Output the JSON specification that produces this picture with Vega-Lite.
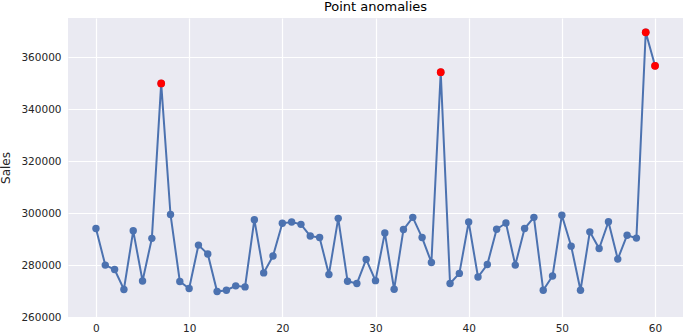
{
  "$schema": "https://vega.github.io/schema/vega-lite/v6.json",
  "autosize": {"type": "none"},
  "padding": {"left": 68, "top": 18, "right": 2, "bottom": 18},
  "width": 615,
  "height": 299,
  "background": "white",
  "title": {"text": "Point anomalies", "font": "DejaVu Sans", "fontSize": 13, "fontWeight": "normal", "color": "#000000", "offset": 4},
  "config": {
    "view": {"fill": "#EAEAF2", "stroke": null},
    "axis": {"labelFont": "DejaVu Sans", "labelFontSize": 10.5, "labelColor": "#262626", "titleFont": "DejaVu Sans", "titleFontSize": 12, "titleFontWeight": "normal", "titleColor": "#262626", "gridColor": "#FFFFFF", "gridWidth": 1.2, "gridOpacity": 1, "domain": false, "ticks": false}
  },
  "data": {"values": [
    {"t": 0, "sales": 294100, "anomaly": false},
    {"t": 1, "sales": 280000, "anomaly": false},
    {"t": 2, "sales": 278300, "anomaly": false},
    {"t": 3, "sales": 270600, "anomaly": false},
    {"t": 4, "sales": 293200, "anomaly": false},
    {"t": 5, "sales": 273900, "anomaly": false},
    {"t": 6, "sales": 290300, "anomaly": false},
    {"t": 7, "sales": 350000, "anomaly": true},
    {"t": 8, "sales": 299500, "anomaly": false},
    {"t": 9, "sales": 273700, "anomaly": false},
    {"t": 10, "sales": 271000, "anomaly": false},
    {"t": 11, "sales": 287700, "anomaly": false},
    {"t": 12, "sales": 284300, "anomaly": false},
    {"t": 13, "sales": 269800, "anomaly": false},
    {"t": 14, "sales": 270300, "anomaly": false},
    {"t": 15, "sales": 272000, "anomaly": false},
    {"t": 16, "sales": 271600, "anomaly": false},
    {"t": 17, "sales": 297500, "anomaly": false},
    {"t": 18, "sales": 277000, "anomaly": false},
    {"t": 19, "sales": 283500, "anomaly": false},
    {"t": 20, "sales": 296100, "anomaly": false},
    {"t": 21, "sales": 296600, "anomaly": false},
    {"t": 22, "sales": 295700, "anomaly": false},
    {"t": 23, "sales": 291200, "anomaly": false},
    {"t": 24, "sales": 290600, "anomaly": false},
    {"t": 25, "sales": 276400, "anomaly": false},
    {"t": 26, "sales": 298000, "anomaly": false},
    {"t": 27, "sales": 273800, "anomaly": false},
    {"t": 28, "sales": 272900, "anomaly": false},
    {"t": 29, "sales": 282200, "anomaly": false},
    {"t": 30, "sales": 274000, "anomaly": false},
    {"t": 31, "sales": 292400, "anomaly": false},
    {"t": 32, "sales": 270700, "anomaly": false},
    {"t": 33, "sales": 293700, "anomaly": false},
    {"t": 34, "sales": 298400, "anomaly": false},
    {"t": 35, "sales": 290600, "anomaly": false},
    {"t": 36, "sales": 281000, "anomaly": false},
    {"t": 37, "sales": 354300, "anomaly": true},
    {"t": 38, "sales": 272900, "anomaly": false},
    {"t": 39, "sales": 276800, "anomaly": false},
    {"t": 40, "sales": 296600, "anomaly": false},
    {"t": 41, "sales": 275400, "anomaly": false},
    {"t": 42, "sales": 280200, "anomaly": false},
    {"t": 43, "sales": 293800, "anomaly": false},
    {"t": 44, "sales": 296200, "anomaly": false},
    {"t": 45, "sales": 280000, "anomaly": false},
    {"t": 46, "sales": 294100, "anomaly": false},
    {"t": 47, "sales": 298400, "anomaly": false},
    {"t": 48, "sales": 270300, "anomaly": false},
    {"t": 49, "sales": 275800, "anomaly": false},
    {"t": 50, "sales": 299200, "anomaly": false},
    {"t": 51, "sales": 287300, "anomaly": false},
    {"t": 52, "sales": 270300, "anomaly": false},
    {"t": 53, "sales": 292800, "anomaly": false},
    {"t": 54, "sales": 286400, "anomaly": false},
    {"t": 55, "sales": 296700, "anomaly": false},
    {"t": 56, "sales": 282300, "anomaly": false},
    {"t": 57, "sales": 291500, "anomaly": false},
    {"t": 58, "sales": 290400, "anomaly": false},
    {"t": 59, "sales": 369700, "anomaly": true},
    {"t": 60, "sales": 356800, "anomaly": true}
  ]},
  "encoding": {
    "x": {"field": "t", "type": "quantitative", "scale": {"domain": [-3, 63], "nice": false, "zero": false},
      "axis": {"title": null, "values": [0, 10, 20, 30, 40, 50, 60], "labelPadding": 6, "labelFlush": false}},
    "y": {"field": "sales", "type": "quantitative", "scale": {"domain": [260000, 375200], "nice": false, "zero": false},
      "axis": {"title": "Sales", "values": [260000, 280000, 300000, 320000, 340000, 360000], "format": "d", "labelPadding": 7, "titlePadding": 8, "labelFlush": false}}
  },
  "layer": [
    {"mark": {"type": "line", "color": "#4C72B0", "strokeWidth": 2}},
    {"mark": {"type": "circle", "color": "#4C72B0", "opacity": 1, "size": 55}},
    {"transform": [{"filter": "datum.anomaly"}], "mark": {"type": "circle", "color": "#FF0000", "opacity": 1, "size": 60}}
  ]
}
